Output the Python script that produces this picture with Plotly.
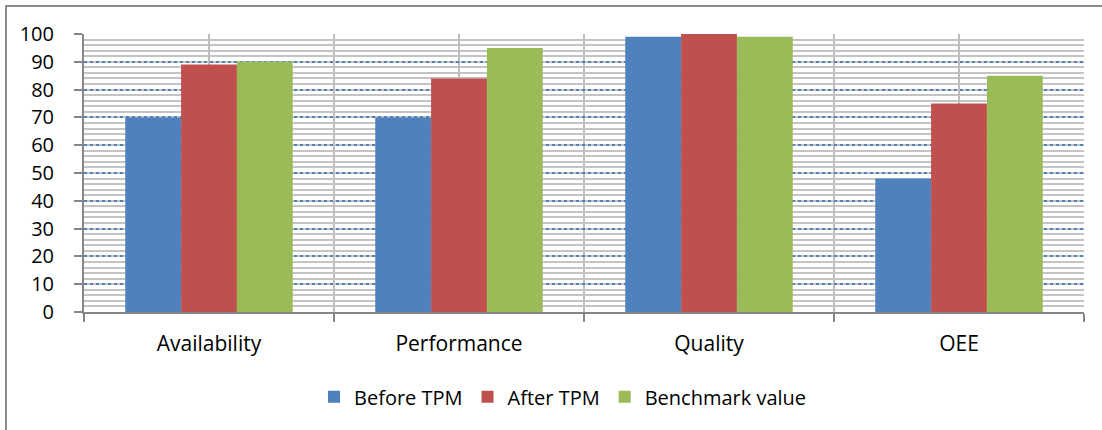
import plotly.graph_objects as go

# Category and series data
categories = ["Availability", "Performance", "Quality", "OEE"]
before_tpm = [70, 70, 99, 48]
after_tpm = [89, 84, 100, 75]
benchmark = [90, 95, 99, 85]

series_names = ["Before TPM", "After TPM", "Benchmark value"]
series_colors = ["#4F81BD", "#C0504D", "#9BBB59"]
y_ticks = [0, 10, 20, 30, 40, 50, 60, 70, 80, 90, 100]

positions = list(range(len(categories)))
boundaries = [p - 0.5 for p in positions] + [positions[-1] + 0.5]

fig = go.Figure()
for name, vals, col in zip(series_names, [before_tpm, after_tpm, benchmark], series_colors):
    fig.add_trace(go.Bar(
        x=positions, y=vals, name=name,
        marker=dict(color=col, line=dict(width=0)),
    ))

W, H = 1102, 430
ml, mr, mt, mb = 84, 18, 34, 118
pw, ph = W - ml - mr, H - mt - mb

font_family = "'Open Sans', sans-serif"

fig.update_layout(
    width=W, height=H,
    margin=dict(l=ml, r=mr, t=mt, b=mb),
    paper_bgcolor="white", plot_bgcolor="white",
    barmode="group", bargap=0.33, bargroupgap=0,
    font=dict(family=font_family, size=20, color="#000000"),
    showlegend=True,
    legend=dict(
        orientation="h", x=0.479, xanchor="center", y=-0.305, yanchor="middle",
        font=dict(size=20), itemsizing="constant", traceorder="normal",
        bgcolor="rgba(0,0,0,0)",
    ),
    xaxis=dict(
        range=[-0.5, len(categories) - 0.5],
        tickvals=positions, ticktext=categories,
        ticks="", showgrid=True, gridcolor="#BDBDBD", gridwidth=2,
        showline=True, linecolor="#868686", linewidth=2,
        tickfont=dict(size=21),
        ticklabelstandoff=12, zeroline=False,
        minor=dict(tickvals=boundaries, ticks="outside", ticklen=8,
                   tickcolor="#868686", tickwidth=2,
                   showgrid=True, gridcolor="#BDBDBD", gridwidth=2),
    ),
    yaxis=dict(
        range=[0, 100], tickvals=y_ticks,
        ticks="outside", ticklen=8, tickcolor="#868686", tickwidth=2,
        showgrid=True, gridcolor="#4F81BD", gridwidth=1.5, griddash="dot",
        showline=True, linecolor="#868686", linewidth=2,
        tickfont=dict(size=20),
        ticklabelstandoff=16, zeroline=False,
        minor=dict(dtick=2, showgrid=True, gridcolor="#C4C4C4", gridwidth=2,
                   griddash="solid", ticks=""),
    ),
)

# Outer chart frame
fig.add_shape(
    type="rect", xref="paper", yref="paper",
    x0=(6 - ml) / pw, x1=(W + 10 - ml) / pw,
    y0=-(H + 10 - mt - ph) / ph, y1=1 + (mt - 6) / ph,
    line=dict(color="#8C8C8C", width=2), fillcolor="rgba(0,0,0,0)", layer="below",
)

fig.write_html("out.html")
